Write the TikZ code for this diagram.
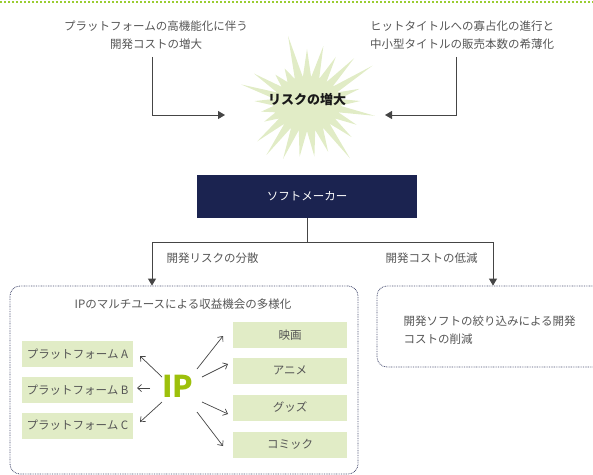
\documentclass[tikz,border=0pt]{standalone}
\usepackage{fontspec}
\setmainfont{Noto Sans CJK JP}
\usetikzlibrary{shapes.symbols,arrows.meta,positioning}

\definecolor{txtgray}{HTML}{555555}
\definecolor{lngray}{HTML}{454545}
\definecolor{paleleaf}{HTML}{E1ECC6}
\definecolor{ipgreen}{HTML}{9DC00C}
\definecolor{navy}{HTML}{1B2350}
\definecolor{dotgreen}{HTML}{9ACD32}
\definecolor{dotnavy}{HTML}{4A4F72}

\begin{document}
\begin{tikzpicture}[x=1pt,y=-1pt,
  every node/.style={font=\fontsize{11.5}{18}\selectfont,text=txtgray},
  cause/.style={align=center},
  feed/.style={draw=lngray,line width=0.9pt,-{Triangle[length=7pt,width=8pt]}},
  ip arrow/.style={draw=lngray,line width=0.7pt,-{Straight Barb[length=4pt,width=7pt]}},
  leaf box/.style={fill=paleleaf,minimum height=26pt,inner sep=0pt},
  frame box/.style={draw=dotnavy,line width=0.8pt,dash pattern=on 0.8pt off 0.9pt,rounded corners=10pt}]

  \useasboundingbox (0,0) rectangle (593,474);
  \draw[dotgreen,line width=2pt,dash pattern=on 2pt off 2pt] (0,1.5) -- (593,1.5);

  % causes
  \node[cause] (lcause) at (156,35) {プラットフォームの高機能化に伴う\\開発コストの増大};
  \node[cause] (rcause) at (462,35) {ヒットタイトルへの寡占化の進行と\\中小型タイトルの販売本数の希薄化};

  \node[starburst,starburst points=25,starburst point height=46pt,random starburst=5,
        fill=paleleaf,minimum width=158pt,minimum height=146pt] (risk) at (307,104) {};
  \node[font=\fontsize{13}{15}\selectfont\bfseries,text=black!90] (risklabel) at (307,100) {リスクの増大};

  \coordinate (lend) at (225,115);
  \coordinate (rend) at (385,115);
  \draw[feed] ([xshift=-4pt,yshift=-4pt]lcause.south) |- (lend);
  \draw[feed] ([xshift=-6pt,yshift=-4pt]rcause.south) |- (rend);

  % maker
  \node[fill=navy,text=white,minimum width=220pt,minimum height=43pt,inner sep=0pt] (maker) at (307,196.5) {ソフトメーカー};
  \coordinate (split) at (307,242);

  \node[frame box,minimum width=348pt,minimum height=188pt] (ipframe) at (184,380) {};
  \begin{scope}
    \clip (0,0) rectangle (593,474);
    \node[frame box,minimum width=240pt,minimum height=81pt] (cutframe) at (497,326.5) {};
  \end{scope}

  \draw[lngray,line width=0.9pt] (maker.south) -- (split);
  \draw[feed] (split) -| (ipframe.north -| 152,0);
  \draw[feed] (split) -| (cutframe.north -| 493,0);
  \node[anchor=west] (spread) at (163,258) {開発リスクの分散};
  \node[anchor=west] (reduce) at (382,258) {開発コストの低減};

  \node[align=left,anchor=west] (cutnote) at (400,330) {開発ソフトの絞り込みによる開発\\コストの削減};

  % IP multi-use
  \node (iptitle) at (183,304) {IPのマルチユースによる収益機会の多様化};
  \node[font=\fontsize{30}{30}\selectfont\bfseries,text=ipgreen] (ip) at (178,386) {IP};

  \node[leaf box,minimum width=111pt] (platA) at (77.5,354) {プラットフォーム A};
  \node[leaf box,minimum width=111pt] (platB) at (77.5,390) {プラットフォーム B};
  \node[leaf box,minimum width=111pt] (platC) at (77.5,425.5) {プラットフォーム C};

  \node[leaf box,minimum width=114pt] (movie) at (290,335) {映画};
  \node[leaf box,minimum width=114pt] (anime) at (290,370.5) {アニメ};
  \node[leaf box,minimum width=114pt] (goods) at (290,407.5) {グッズ};
  \node[leaf box,minimum width=114pt] (comic) at (290,444.5) {コミック};

  \foreach \sx/\sy/\ex/\ey in {-16/-9/-38/-30, -28/2/-41/2, -16/16/-38/36,
                               19/-17/45/-50, 24/-9/50/-22, 24/16/50/28, 19/26/45/60}
    \draw[ip arrow] ([shift={(\sx,\sy)}]ip.center) -- ([shift={(\ex,\ey)}]ip.center);
\end{tikzpicture}
\end{document}
